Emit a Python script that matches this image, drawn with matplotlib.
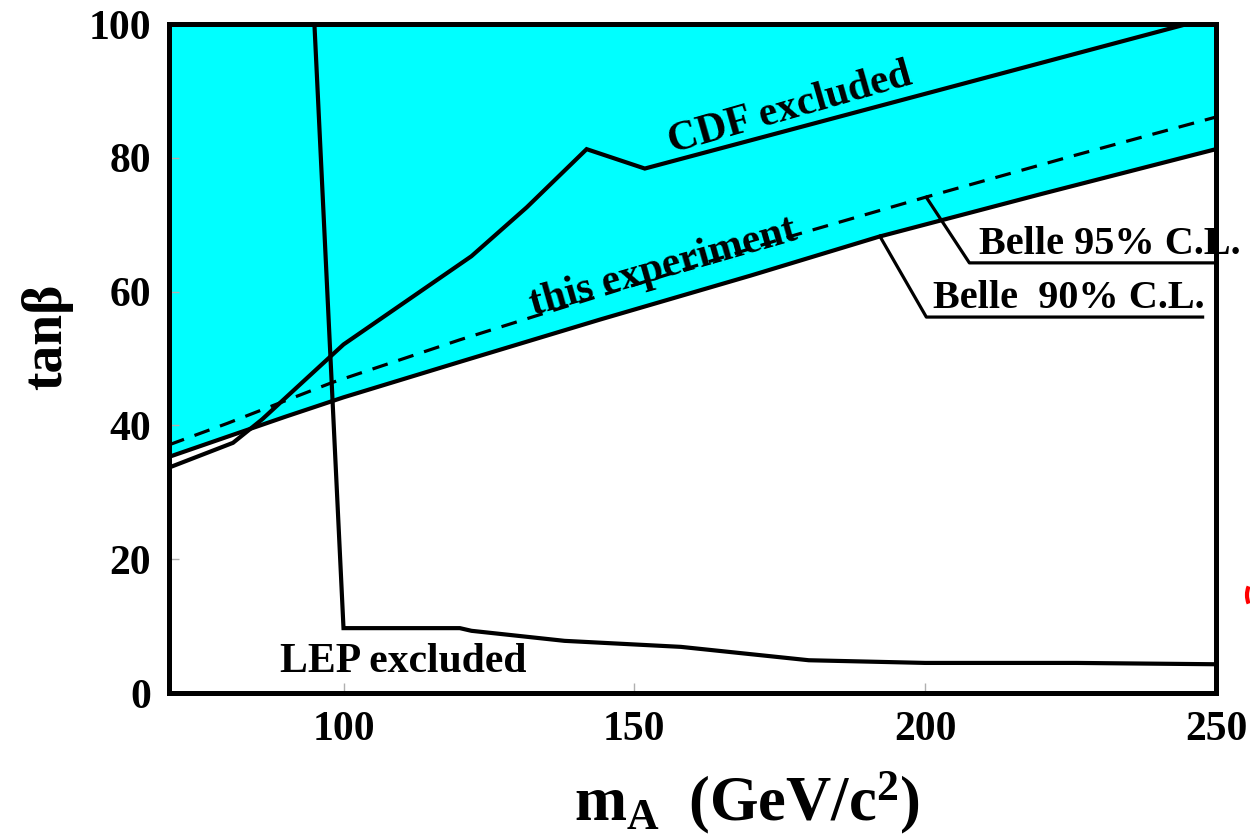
import matplotlib
matplotlib.use("Agg")
import matplotlib.pyplot as plt
from matplotlib.patches import Arc

plt.rcParams["font.family"] = ["Liberation Serif", "DejaVu Serif"]
plt.rcParams["font.weight"] = "bold"
plt.rcParams["mathtext.fontset"] = "custom"
plt.rcParams["mathtext.rm"] = "Liberation Serif:bold"
plt.rcParams["mathtext.it"] = "Liberation Serif:bold"
plt.rcParams["mathtext.bf"] = "Liberation Serif:bold"

# Belle 90% C.L. limit (lower edge of the shaded exclusion)
mass_belle90 = [70, 80, 90, 100, 120, 144, 170, 192, 220, 250]
tanb_belle90 = [35.3, 38.3, 41.3, 44.2, 49.5, 55.8, 62.4, 68.2, 74.6, 81.3]

# this experiment (Belle 95% C.L.), dashed
mass_this = [70, 80, 98, 120, 150, 175, 200, 225, 250]
tanb_this = [37.1, 40.3, 46.4, 52.8, 61.0, 67.8, 74.1, 80.2, 86.1]

# CDF exclusion contour
mass_cdf = [70, 81, 86, 100, 122, 131.5, 141.8, 151.8, 245]
tanb_cdf = [33.7, 37.4, 40.9, 52.1, 65.3, 72.6, 81.3, 78.4, 100]

# LEP exclusion contour
mass_lep = [95, 100, 120, 122, 138, 158, 180, 200, 226, 250]
tanb_lep = [100, 9.7, 9.7, 9.3, 7.8, 6.9, 4.9, 4.5, 4.5, 4.3]

x_ticks = [100, 150, 200, 250]
y_ticks = [0, 20, 40, 60, 80, 100]

fig = plt.figure(figsize=(12.5, 8.38), dpi=100)
ax = fig.add_axes([0.1352, 0.1730, 0.8376, 0.7983])
ax.set_xlim(70, 250)
ax.set_ylim(0, 100)

ax.fill_between(mass_belle90, tanb_belle90, 100, color="#00FFFF", lw=0, zorder=1)

ax.plot(mass_belle90, tanb_belle90, color="black", lw=3.0, zorder=3,
        solid_joinstyle="miter")
ax.plot(mass_this, tanb_this, color="black", lw=2.3, zorder=3,
        dashes=(5, 3.5))
ax.plot(mass_cdf, tanb_cdf, color="black", lw=3.0, zorder=3,
        solid_joinstyle="miter")
ax.plot(mass_lep, tanb_lep, color="black", lw=3.0, zorder=3,
        solid_joinstyle="miter")

# leader lines for the Belle labels
ax.plot([200.2, 207.6, 250], [74.1, 64.3, 64.3], color="black", lw=2.3,
        zorder=4, clip_on=False)
ax.plot([192.2, 200.2, 247.7], [68.3, 56.2, 56.2], color="black", lw=2.3,
        zorder=4, clip_on=False)

ax.text(209.2, 65.6, "Belle 95% C.L.", fontsize=29, ha="left",
        va="baseline", zorder=5, clip_on=False)
ax.text(201.4, 57.5, "Belle  90% C.L.", fontsize=29, ha="left",
        va="baseline", zorder=5, clip_on=False)

ax.text(176.8, 87.4, "CDF excluded", fontsize=30, rotation=16,
        rotation_mode="anchor", ha="center", va="center", zorder=5)
ax.text(155.0, 63.6, "this experiment", fontsize=30, rotation=16,
        rotation_mode="anchor", ha="center", va="center", zorder=5)
ax.text(110.2, 4.6, "LEP excluded", fontsize=30, ha="center", va="center",
        zorder=5)

ax.set_xticks(x_ticks)
ax.set_yticks(y_ticks)
ax.set_xticklabels([str(v) for v in x_ticks])
ax.set_yticklabels([str(v) for v in y_ticks])
ax.tick_params(axis="both", direction="in", length=7, width=1,
               color="#b0b0b0", labelsize=30, pad=13)
for lab in ax.get_xticklabels() + ax.get_yticklabels():
    lab.set_fontweight("bold")

for sp in ax.spines.values():
    sp.set_linewidth(3.6)
    sp.set_zorder(6)

fig.text(47 / 1250, 1 - 337 / 838, "tan\u03b2", rotation=90, fontsize=40,
         ha="center", va="center")
fig.text(747 / 1250, 1 - 803 / 838, r"$\mathrm{m_A\;\;(GeV/c^2)}$",
         fontsize=45, ha="center", va="center")

# small red arc at the right margin
fig.patches.append(Arc((1264 / 1250, 1 - 595 / 838), 34 / 1250, 40 / 838,
                       theta1=140, theta2=220, color="red", lw=3,
                       transform=fig.transFigure, figure=fig))

fig.savefig("out.png", dpi=100)
